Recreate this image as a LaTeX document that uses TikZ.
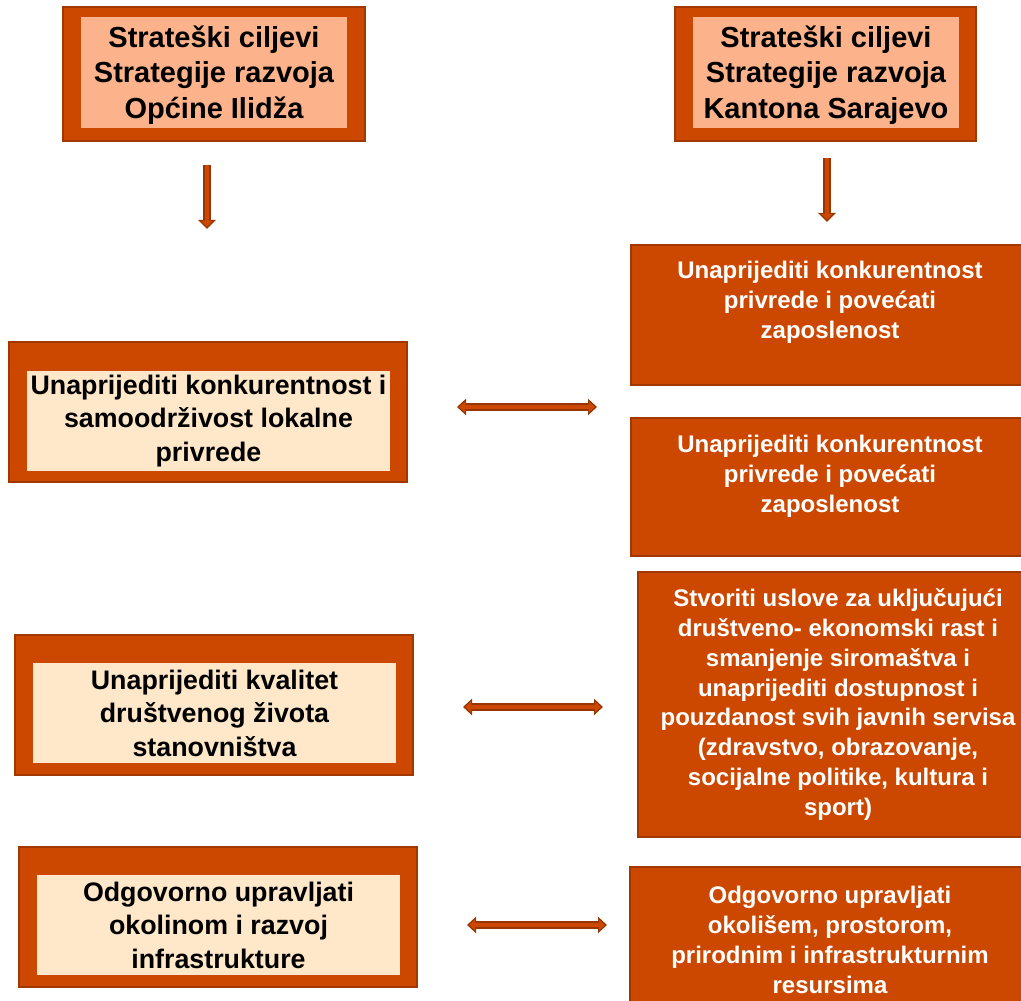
\documentclass[tikz,border=0pt]{standalone}
\usepackage{fontspec}
\setmainfont{Liberation Sans}
\usepackage{xcolor}
\usetikzlibrary{arrows.meta, positioning}

\definecolor{boxfill}{HTML}{CC4800}
\definecolor{boxedge}{HTML}{A03800}
\definecolor{peach}{HTML}{FCB38C}
\definecolor{bisque}{HTML}{FFE7C9}
\definecolor{arrowedge}{HTML}{983600}
\definecolor{arrowfill}{HTML}{CC4800}

\tikzset{
  outerbox/.style={draw=boxedge, line width=1.5pt, fill=boxfill, inner sep=0pt,
    minimum width=#1},
  outerbox/.default=398pt,
  topbox/.style={fill=peach, inner sep=0pt, minimum width=266pt, minimum height=111pt,
    align=center, font=\fontsize{29}{35.5}\selectfont\bfseries},
  leftbox/.style={fill=bisque, inner sep=0pt, minimum width=363pt, minimum height=100pt,
    align=center, font=\fontsize{26.8}{33.5}\selectfont\bfseries},
  righttext/.style={text=white, inner sep=0pt, align=center,
    font=\fontsize{24}{29.8}\selectfont\bfseries},
  downarrow/.style={line width=8pt, draw=arrowedge,
    -{Triangle[length=9pt,width=17pt]},
    postaction={draw=arrowfill, line width=3.5pt, shorten >=2pt,
      -{Triangle[length=6pt,width=11pt]}}},
  bothway/.style={line width=8pt, draw=arrowedge,
    {Triangle[length=9pt,width=16pt]}-{Triangle[length=9pt,width=16pt]},
    postaction={draw=arrowfill, line width=3.5pt, shorten >=2pt, shorten <=2pt,
      {Triangle[length=6pt,width=10pt]}-{Triangle[length=6pt,width=10pt]}}}
}

\begin{document}
\begin{tikzpicture}[x=1pt,y=1pt]
\useasboundingbox (0,0) rectangle (1021,1001);
\clip (0,0) rectangle (1021,1001);
% Strateski ciljevi (top)
\node[outerbox=302pt, minimum height=134pt] (ilidza) at (214,927) {};
\node[topbox] (ilidzaTxt) at (214,928.5) {};
\node[font=\fontsize{29}{35.5}\selectfont\bfseries, align=center, inner sep=0pt]
  (ilidzaLbl) at (214,926) {Strateški ciljevi\\Strategije razvoja\\Općine Ilidža};
\node[outerbox=301pt, minimum height=134pt] (kanton) at (825.5,927) {};
\node[topbox] (kantonTxt) at (826,928) {};
\node[font=\fontsize{29}{35.5}\selectfont\bfseries, align=center, inner sep=0pt]
  (kantonLbl) at (826,926) {Strateški ciljevi\\Strategije razvoja\\Kantona Sarajevo};
\coordinate (ilidzaA) at (207,836);
\coordinate (ilidzaB) at (207,772);
\coordinate (kantonA) at (827,843);
\coordinate (kantonB) at (827,779);
\draw[downarrow] (ilidzaA) -- (ilidzaB);
\draw[downarrow] (kantonA) -- (kantonB);
% Ciljevi Opcine
\node[outerbox, minimum height=140pt] (privreda) at (208,589) {};
\node[leftbox] (privredaTxt) at (208.5,580) {Unaprijediti konkurentnost i\\samoodrživost lokalne\\privrede};
\node[outerbox, minimum height=140pt] (drustvo) at (214,296) {};
\node[leftbox] (drustvoTxt) at (214.5,288) {Unaprijediti kvalitet\\društvenog života\\stanovništva};
\node[outerbox, minimum height=140pt] (okolina) at (218,84) {};
\node[leftbox] (okolinaTxt) at (218.5,76) {Odgovorno upravljati\\okolinom i razvoj\\infrastrukture};
% Ciljevi Kantona
\node[outerbox, minimum height=140pt] (kpriv) at (830,686) {};
\node[righttext] (kprivTxt) at (830,698.5) {Unaprijediti konkurentnost\\privrede i povećati\\zaposlenost};
\node[outerbox, minimum height=138pt] (kzap) at (830,514) {};
\node[righttext] (kzapTxt) at (830,524.5) {Unaprijediti konkurentnost\\privrede i povećati\\zaposlenost};
\node[outerbox=400pt, minimum height=265pt] (kdrus) at (838,296.5) {};
\node[righttext] (kdrusTxt) at (838,296.5) {Stvoriti uslove za uključujući\\društveno- ekonomski rast i\\smanjenje siromaštva i\\unaprijediti dostupnost i\\pouzdanost svih javnih servisa\\(zdravstvo, obrazovanje,\\socijalne politike, kultura i\\sport)};
\node[outerbox=400pt, minimum height=170pt] (kokol) at (830,49) {};
\node[righttext] (kokolTxt) at (830,61) {Odgovorno upravljati\\okolišem, prostorom,\\prirodnim i infrastrukturnim\\resursima};
% Veze
\coordinate (v1a) at (457,594);
\coordinate (v1b) at (597,594);
\coordinate (v2a) at (463,294);
\coordinate (v2b) at (603,294);
\coordinate (v3a) at (467,76);
\coordinate (v3b) at (607,76);
\draw[bothway] (v1a) -- (v1b);
\draw[bothway] (v2a) -- (v2b);
\draw[bothway] (v3a) -- (v3b);
\end{tikzpicture}
\end{document}
